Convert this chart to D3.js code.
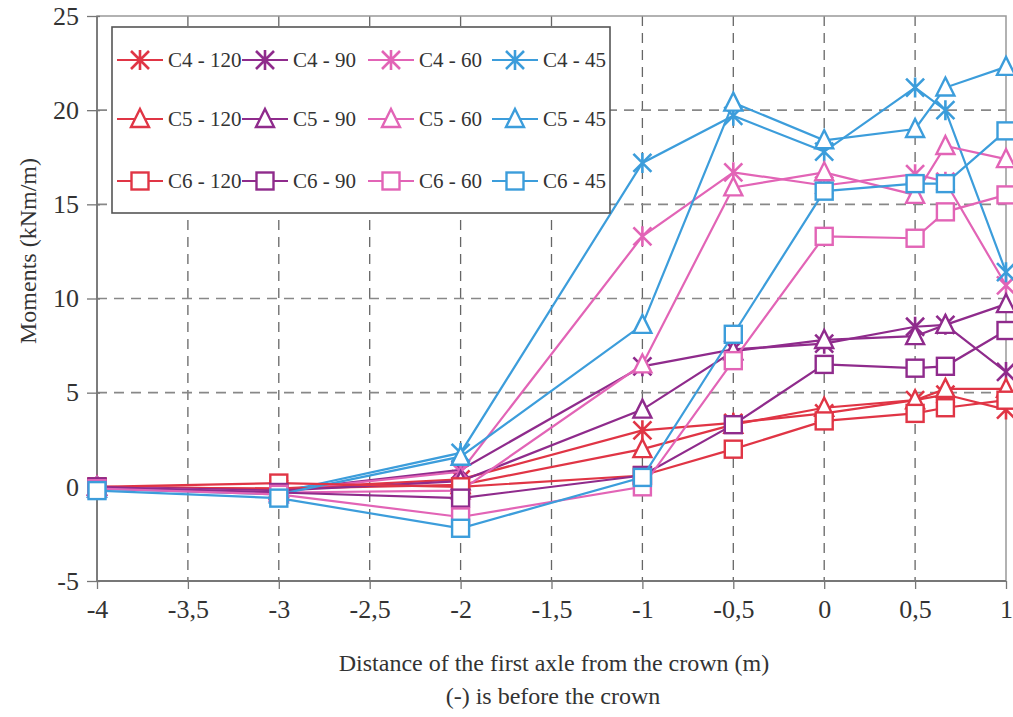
<!DOCTYPE html>
<html>
<head>
<meta charset="utf-8">
<script src="https://cdn.jsdelivr.net/npm/d3@7"></script>
<style>
  html, body { margin: 0; padding: 0; background: #fff; }
  svg { display: block; }
  svg text { font-family: "Liberation Serif", "DejaVu Serif", serif; fill: #333; }
</style>
</head>
<body>
<svg id="chart" width="1013" height="717"></svg>
<script>
// Distance of the first axle from the crown (m)
const positions = [-4, -3, -2, -1, -0.5, 0, 0.5, 2 / 3, 1];

// Bending moments (kNm/m) per load case
const c4_120 = [0, -0.1, 0.4, 3.0, 3.4, 3.9, 4.6, 4.9, 4.1];
const c4_90  = [0, -0.2, 0.9, 6.4, 7.3, 7.6, 8.5, 8.6, 6.1];
const c4_60  = [0, -0.2, 0.8, 13.3, 16.7, 16.0, 16.6, 16.2, 10.7];
const c4_45  = [0, -0.3, 1.8, 17.2, 19.7, 17.8, 21.2, 20.0, 11.4];
const c5_120 = [0, -0.1, 0.1, 2.0, 3.3, 4.2, 4.6, 5.2, 5.2];
const c5_90  = [0, -0.2, 0.3, 4.1, 7.2, 7.8, 8.0, 8.6, 9.7];
const c5_60  = [0, -0.3, -0.2, 6.5, 15.9, 16.7, 15.5, 18.1, 17.4];
const c5_45  = [-0.1, -0.4, 1.6, 8.6, 20.4, 18.4, 19.0, 21.2, 22.3];
const c6_120 = [0, 0.2, 0.0, 0.6, 2.0, 3.5, 3.9, 4.2, 4.6];
const c6_90  = [0, -0.3, -0.6, 0.6, 3.3, 6.5, 6.3, 6.4, 8.3];
const c6_60  = [-0.1, -0.4, -1.6, 0.0, 6.7, 13.3, 13.2, 14.6, 15.5];
const c6_45  = [-0.2, -0.6, -2.2, 0.5, 8.1, 15.7, 16.1, 16.1, 18.9];

const seriesNames = ["C4 - 120", "C4 - 90", "C4 - 60", "C4 - 45",
                     "C5 - 120", "C5 - 90", "C5 - 60", "C5 - 45",
                     "C6 - 120", "C6 - 90", "C6 - 60", "C6 - 45"];
const seriesValues = [c4_120, c4_90, c4_60, c4_45,
                      c5_120, c5_90, c5_60, c5_45,
                      c6_120, c6_90, c6_60, c6_45];

const xTicks = [-4, -3.5, -3, -2.5, -2, -1.5, -1, -0.5, 0, 0.5, 1];
const yTicks = [-5, 0, 5, 10, 15, 20, 25];

// colour by angle, marker by culvert
const colors = {"120": "#e03545", "90": "#8f2b8c", "60": "#e264b6", "45": "#3c9ddb"};
const symbolOf = {"C4": "star", "C5": "triangle", "C6": "square"};

const serif = "'Liberation Serif', 'DejaVu Serif', serif";
const svg = d3.select("#chart");
const plotL = 97, plotR = 1006, plotT = 16, plotB = 581;

const x = d3.scaleLinear().domain([-4, 1]).range([plotL, plotR]);
const y = d3.scaleLinear().domain([-5, 25]).range([plotB, plotT]);

// gridlines
const grid = svg.append("g");
grid.selectAll("line.vg").data(xTicks.filter(t => t > -4 && t < 1)).join("line")
  .attr("x1", d => x(d)).attr("x2", d => x(d))
  .attr("y1", plotT).attr("y2", plotB)
  .attr("stroke", "#666").attr("stroke-width", 1.3)
  .attr("stroke-dasharray", "10,7");
grid.selectAll("line.hg").data(yTicks.filter(t => t > 0 && t < 25)).join("line")
  .attr("x1", plotL).attr("x2", plotR)
  .attr("y1", d => y(d)).attr("y2", d => y(d))
  .attr("stroke", "#888").attr("stroke-width", 1.6)
  .attr("stroke-dasharray", "10,7");

// frame
svg.append("rect").attr("x", plotL).attr("y", plotT)
  .attr("width", plotR - plotL).attr("height", plotB - plotT)
  .attr("fill", "none").attr("stroke", "#999").attr("stroke-width", 1.5);
svg.append("line").attr("x1", plotL).attr("x2", plotL).attr("y1", plotT).attr("y2", plotB)
  .attr("stroke", "#777").attr("stroke-width", 1.8);
svg.append("line").attr("x1", plotL).attr("x2", plotR).attr("y1", plotB).attr("y2", plotB)
  .attr("stroke", "#777").attr("stroke-width", 1.8);

// axes
const yAxis = d3.axisLeft(y).tickValues(yTicks).tickSize(10).tickPadding(8)
  .tickFormat(d => String(d));
const gy = svg.append("g").attr("transform", `translate(${plotL},0)`).call(yAxis);
gy.select(".domain").remove();
gy.selectAll(".tick line").attr("stroke", "#777").attr("stroke-width", 1.3)
  .attr("x2", -10).attr("x1", 3);
gy.selectAll(".tick text").attr("x", -18)
  .style("font-family", serif).style("font-size", "26px").style("fill", "#333");

const fmt = d => String(d).replace(".", ",");
const xAxis = d3.axisBottom(x).tickValues(xTicks).tickSize(8).tickPadding(12).tickFormat(fmt);
const gx = svg.append("g").attr("transform", `translate(0,${plotB})`).call(xAxis);
gx.select(".domain").remove();
gx.selectAll(".tick line").attr("stroke", "#777").attr("stroke-width", 1.3);
gx.selectAll(".tick text").attr("y", 19)
  .style("font-family", serif).style("font-size", "26px").style("fill", "#333");

// axis titles
svg.append("text")
  .attr("transform", `translate(36,251) rotate(-90)`)
  .attr("text-anchor", "middle").style("font-size", "24px")
  .text("Moments (kNm/m)");
svg.append("text").attr("x", 554).attr("y", 671)
  .attr("text-anchor", "middle").style("font-size", "24px")
  .text("Distance of the first axle from the crown (m)");
svg.append("text").attr("x", 553).attr("y", 704)
  .attr("text-anchor", "middle").style("font-size", "24px")
  .text("(-) is before the crown");

// marker drawing
function drawMarker(g, kind, cx, cy, color) {
  if (kind === "star") {
    const r = 9;
    const p = `M${cx - r},${cy - r}L${cx + r},${cy + r}M${cx - r},${cy + r}L${cx + r},${cy - r}M${cx},${cy - r - 1}L${cx},${cy + r + 1}`;
    g.append("path").attr("d", p).attr("stroke", color).attr("stroke-width", 2.6).attr("fill", "none");
  } else if (kind === "triangle") {
    const s = 9;
    const p = `M${cx},${cy - s - 1}L${cx + s},${cy + s - 1}L${cx - s},${cy + s - 1}Z`;
    g.append("path").attr("d", p).attr("stroke", color).attr("stroke-width", 2.4).attr("fill", "#fff");
  } else {
    const s = 8.5;
    g.append("rect").attr("x", cx - s).attr("y", cy - s).attr("width", 2 * s).attr("height", 2 * s)
      .attr("stroke", color).attr("stroke-width", 2.4).attr("fill", "#fff");
  }
}

const line = d3.line().x(d => x(d[0])).y(d => y(d[1]));

// legend box
const legend = svg.append("g");
legend.append("rect").attr("x", 112).attr("y", 27).attr("width", 498).attr("height", 186)
  .attr("fill", "#fff").attr("stroke", "#555").attr("stroke-width", 1.6);
const colX = [117, 242, 368, 492];
const rowY = [60, 119, 181];

// series: lines then markers, drawn in legend order
const plot = svg.append("g");
seriesNames.forEach((name, i) => {
  const [culvert, angle] = name.split(" - ");
  const color = colors[angle];
  const kind = symbolOf[culvert];
  const pts = positions.map((p, j) => [p, seriesValues[i][j]]);
  const g = plot.append("g");
  g.append("path").attr("d", line(pts)).attr("fill", "none")
    .attr("stroke", color).attr("stroke-width", 2.2);
  pts.forEach(d => drawMarker(g, kind, x(d[0]), y(d[1]), color));

  const lx = colX[i % 4], ly = rowY[Math.floor(i / 4)];
  const lg = legend.append("g");
  lg.append("line").attr("x1", lx).attr("x2", lx + 46).attr("y1", ly).attr("y2", ly)
    .attr("stroke", color).attr("stroke-width", 2);
  drawMarker(lg, kind, lx + 23, ly, color);
  lg.append("text").attr("x", lx + 51).attr("y", ly + 7).style("font-size", "21px").text(name);
});

// legend sits above the data lines
legend.raise();
</script>
</body>
</html>
